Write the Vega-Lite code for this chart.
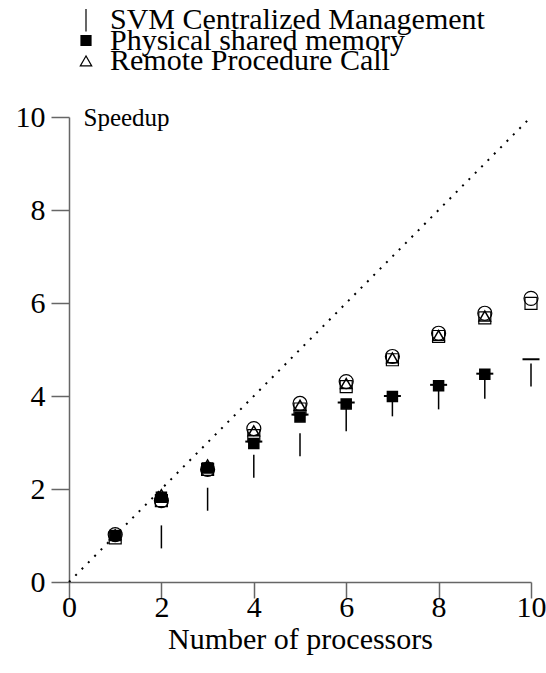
{
  "$schema": "https://vega.github.io/schema/vega-lite/v6.json",
  "width": 462,
  "height": 465,
  "autosize": {"type": "none"},
  "padding": {"left": 69, "top": 117, "right": 15, "bottom": 91},
  "background": "white",
  "config": {
    "font": "Liberation Serif",
    "view": {"stroke": null},
    "legend": {"labelFont": "Liberation Serif"},
    "axis": {"grid": false, "domainColor": "#666", "tickColor": "#666", "domainWidth": 1.5, "tickWidth": 1.5, "tickSize": 18, "labelColor": "black", "titleColor": "black", "labelFont": "Liberation Serif", "titleFont": "Liberation Serif", "titleFontWeight": "normal", "labelFontSize": 30, "titleFontSize": 30}
  },
  "datasets": {
    "pts": [
      {"x": 2, "y": 0.97, "series": "SVM Centralized Management"},
      {"x": 3, "y": 1.78, "series": "SVM Centralized Management"},
      {"x": 4, "y": 2.49, "series": "SVM Centralized Management"},
      {"x": 5, "y": 2.95, "series": "SVM Centralized Management"},
      {"x": 6, "y": 3.49, "series": "SVM Centralized Management"},
      {"x": 7, "y": 3.81, "series": "SVM Centralized Management"},
      {"x": 8, "y": 3.96, "series": "SVM Centralized Management"},
      {"x": 9, "y": 4.19, "series": "SVM Centralized Management"},
      {"x": 10, "y": 4.45, "series": "SVM Centralized Management"},
      {"x": 1, "y": 1.0, "series": "Physical shared memory"},
      {"x": 2, "y": 1.82, "series": "Physical shared memory"},
      {"x": 3, "y": 2.45, "series": "Physical shared memory"},
      {"x": 4, "y": 2.98, "series": "Physical shared memory"},
      {"x": 5, "y": 3.55, "series": "Physical shared memory"},
      {"x": 6, "y": 3.83, "series": "Physical shared memory"},
      {"x": 7, "y": 3.99, "series": "Physical shared memory"},
      {"x": 8, "y": 4.22, "series": "Physical shared memory"},
      {"x": 9, "y": 4.47, "series": "Physical shared memory"},
      {"x": 1, "y": 1.02, "series": "Remote Procedure Call"},
      {"x": 2, "y": 1.88, "series": "Remote Procedure Call"},
      {"x": 3, "y": 2.52, "series": "Remote Procedure Call"},
      {"x": 4, "y": 3.25, "series": "Remote Procedure Call"},
      {"x": 5, "y": 3.8, "series": "Remote Procedure Call"},
      {"x": 6, "y": 4.27, "series": "Remote Procedure Call"},
      {"x": 7, "y": 4.82, "series": "Remote Procedure Call"},
      {"x": 8, "y": 5.3, "series": "Remote Procedure Call"},
      {"x": 9, "y": 5.72, "series": "Remote Procedure Call"}
    ],
    "circles": [
      {"x": 1, "y": 1.02}, {"x": 2, "y": 1.75}, {"x": 3, "y": 2.42}, {"x": 4, "y": 3.3}, {"x": 5, "y": 3.84},
      {"x": 6, "y": 4.31}, {"x": 7, "y": 4.85}, {"x": 8, "y": 5.35}, {"x": 9, "y": 5.78}, {"x": 10, "y": 6.1}
    ],
    "squares": [
      {"x": 1, "y": 0.95}, {"x": 2, "y": 1.75}, {"x": 3, "y": 2.42}, {"x": 4, "y": 3.15}, {"x": 5, "y": 3.72},
      {"x": 6, "y": 4.2}, {"x": 7, "y": 4.78}, {"x": 8, "y": 5.28}, {"x": 9, "y": 5.68}, {"x": 10, "y": 5.99}
    ],
    "dashes": [
      {"x": 4, "y": 3.02}, {"x": 5, "y": 3.6}, {"x": 6, "y": 3.86}, {"x": 7, "y": 4.0},
      {"x": 8, "y": 4.24}, {"x": 9, "y": 4.48}, {"x": 10, "y": 4.79}
    ],
    "ideal": [{"x": 0, "y": 0}, {"x": 10, "y": 10}]
  },
  "layer": [
    {
      "data": {"name": "ideal"},
      "mark": {"type": "line", "color": "black", "strokeWidth": 2, "strokeDash": [2, 7]},
      "encoding": {
        "x": {"field": "x", "type": "quantitative", "scale": {"domain": [0, 10], "nice": false}, "axis": {"values": [0, 2, 4, 6, 8, 10], "title": "Number of processors", "tickSize": 16, "labelPadding": -6, "titlePadding": 2, "labelFlush": false}},
        "y": {"field": "y", "type": "quantitative", "scale": {"domain": [0, 10], "nice": false}, "axis": {"values": [0, 2, 4, 6, 8, 10], "title": "Speedup", "titleAngle": 0, "titleX": 14, "titleY": 0, "titleAlign": "left", "titleBaseline": "middle", "titleFontSize": 25, "labelPadding": 6, "labelFlush": false}}
      }
    },
    {
      "data": {"name": "circles"},
      "mark": {"type": "point", "shape": "circle", "filled": false, "stroke": "black", "strokeWidth": 1.2, "size": 196, "opacity": 1},
      "encoding": {"x": {"field": "x", "type": "quantitative"}, "y": {"field": "y", "type": "quantitative"}}
    },
    {
      "data": {"name": "squares"},
      "mark": {"type": "point", "shape": "square", "filled": false, "stroke": "black", "strokeWidth": 1.2, "size": 144, "opacity": 1},
      "encoding": {"x": {"field": "x", "type": "quantitative"}, "y": {"field": "y", "type": "quantitative"}}
    },
    {
      "data": {"name": "dashes"},
      "mark": {"type": "point", "shape": "stroke", "filled": false, "stroke": "black", "strokeWidth": 2, "size": 289, "opacity": 1},
      "encoding": {"x": {"field": "x", "type": "quantitative"}, "y": {"field": "y", "type": "quantitative"}}
    },
    {
      "data": {"name": "pts"},
      "mark": {"type": "point", "stroke": "black", "strokeWidth": 1.5, "opacity": 1},
      "encoding": {
        "x": {"field": "x", "type": "quantitative"},
        "y": {"field": "y", "type": "quantitative"},
        "shape": {"field": "series", "type": "nominal", "scale": {"domain": ["SVM Centralized Management", "Physical shared memory", "Remote Procedure Call"], "range": ["M0,-1L0,1", "square", "triangle-up"]},
          "legend": {"title": null, "orient": "none", "legendX": 2, "legendY": -108, "padding": 0, "labelFont": "Liberation Serif", "labelFontSize": 30, "labelColor": "black", "labelOffset": 9, "rowPadding": -9.5, "gridAlign": "none", "clipHeight": 22, "symbolStrokeColor": "black", "symbolStrokeWidth": 1.2, "labelLimit": 600}},
        "fill": {"field": "series", "type": "nominal", "scale": {"domain": ["SVM Centralized Management", "Physical shared memory", "Remote Procedure Call"], "range": ["transparent", "black", "transparent"]}, "legend": {"title": null}},
        "size": {"field": "series", "type": "nominal", "scale": {"type": "ordinal", "domain": ["SVM Centralized Management", "Physical shared memory", "Remote Procedure Call"], "range": [529, 100, 130]}, "legend": {"title": null}}
      }
    }
  ]
}
